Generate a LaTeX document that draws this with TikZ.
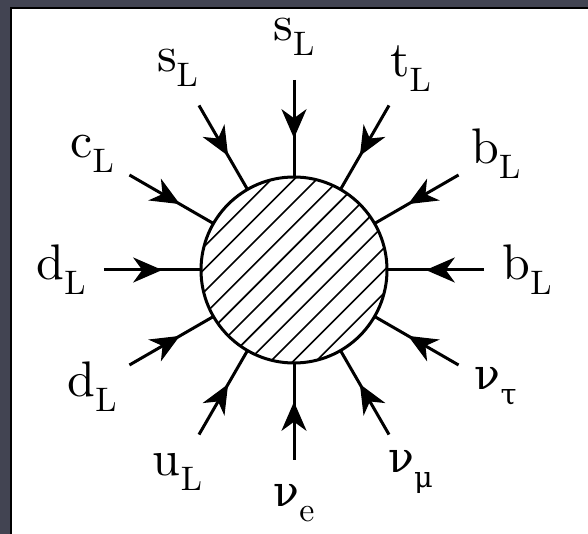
\documentclass[tikz,border=0pt]{standalone}
\usepackage{fontspec}
\newfontfamily\labfont{lmroman10-regular.otf}
\newfontfamily\grfont{DejaVu Serif}[Scale=0.85]
\usetikzlibrary{arrows.meta, decorations.markings}
\definecolor{slate}{RGB}{66, 68, 82}

\newcommand{\prt}[2]{#1\raisebox{-15pt}{\fontsize{34}{34}\selectfont #2}}
\newcommand{\gk}[1]{{\grfont #1}}

\begin{document}
\begin{tikzpicture}[x=1pt, y=1pt,
    leg/.style={line width=3pt, postaction={decorate},
      decoration={markings, mark=at position 0.6 with {\arrow{Stealth[length=29pt, width=25pt, inset=9pt]}}}},
    lbl/.style={font=\labfont\fontsize{50}{50}\selectfont, inner sep=0pt}
  ]
  \useasboundingbox (-294,-264) rectangle (294,270);
  % frame
  \fill[slate] (-294,-264) rectangle (294,270);
  \fill[white] (-282,-264) rectangle (294,261);
  \draw[line width=2.5pt] (-283,-264) -- (-283,262) -- (294,262);

  % hatched blob
  \begin{scope}
    \clip (0,0) circle (93);
    \foreach \k in {-5,...,5}
      \draw[line width=1.6pt, rotate=45] (-100,\k*16) -- (100,\k*16);
  \end{scope}
  \node[draw, circle, line width=3pt, minimum size=186pt, inner sep=0pt, outer sep=0pt] (blob) at (0,0) {};

  % external legs
  \foreach \a/\m/\s in {0/b/L, 30/b/L, 60/t/L, 90/s/L, 120/s/L, 150/c/L,
      180/d/L, 210/d/L, 240/u/L, 270/\gk{ν}/e, 300/\gk{ν}/\gk{μ}, 330/\gk{ν}/\gk{τ}} {
    \coordinate (o\a) at (\a:190);
    \draw[leg] (o\a) -- (blob.\a);
    \node[lbl] (l\a) at (\a:233) {\prt{\m}{\s}};
  }
\end{tikzpicture}
\end{document}
